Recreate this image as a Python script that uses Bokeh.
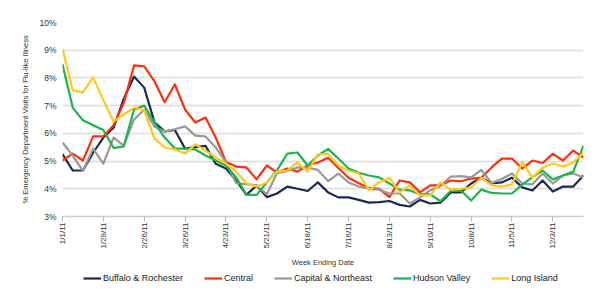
import math
from bokeh.plotting import figure
from bokeh.layouts import column
from bokeh.models import Range1d, FixedTicker, Legend, LegendItem, ColumnDataSource
from bokeh.embed import file_html
from bokeh.resources import INLINE

# Weekly share of ED visits for flu-like illness (%), week ending 1/1/11 .. 12/24/11
week_index = list(range(52))
tick_weeks = [0, 4, 8, 12, 16, 20, 24, 28, 32, 36, 40, 44, 48]
tick_labels = ["1/1/11", "1/29/11", "2/26/11", "3/26/11", "4/23/11", "5/21/11", "6/18/11",
               "7/16/11", "8/13/11", "9/10/11", "10/8/11", "11/5/11", "12/3/11"]

buffalo_rochester = [5.25, 4.66, 4.66, 5.3, 5.85, 6.2, 7.25, 8.05, 7.65, 6.4,
                     6.07, 6.12, 5.45, 5.5, 5.55, 4.9, 4.73, 4.3, 3.78, 4.12,
                     3.7, 3.83, 4.08, 4.0, 3.92, 4.23, 3.87, 3.69, 3.69, 3.6,
                     3.5, 3.52, 3.56, 3.42, 3.36, 3.6, 3.47, 3.5, 3.87, 3.87,
                     4.19, 4.4, 4.19, 4.23, 4.4, 4.05, 3.94, 4.3, 3.9, 4.08,
                     4.08, 4.48]
central = [5.02, 5.27, 5.02, 5.89, 5.89, 6.29, 7.1, 8.45, 8.42, 7.88,
           7.12, 7.77, 6.86, 6.39, 6.57, 5.85, 4.97, 4.8, 4.77, 4.34,
           4.84, 4.59, 4.73, 4.62, 4.84, 4.95, 5.12, 4.75, 4.4, 4.2,
           4.03, 4.0, 3.7, 4.3, 4.23, 3.87, 4.12, 4.12, 4.3, 4.27,
           4.37, 4.4, 4.77, 5.09, 5.09, 4.73, 5.02, 4.93, 5.26, 5.02,
           5.38, 5.13]
capital_northeast = [5.67, 5.2, 4.65, 5.45, 4.91, 5.85, 5.56, 6.5, 6.85, 6.25,
                     6.07, 6.15, 6.25, 5.92, 5.89, 5.49, 4.95, 4.2, 4.17, 4.12,
                     3.8, 4.57, 4.64, 4.77, 4.76, 4.68, 4.28, 4.55, 4.23, 4.08,
                     4.0, 3.97, 3.83, 3.83, 3.47, 3.69, 3.94, 4.1, 4.44, 4.46,
                     4.41, 4.68, 4.21, 4.35, 4.55, 4.19, 4.16, 4.55, 4.19, 4.48,
                     4.55, 4.41]
hudson_valley = [8.49, 6.93, 6.47, 6.29, 6.12, 5.47, 5.53, 6.86, 7.0, 6.39,
                 5.85, 5.45, 5.45, 5.42, 5.2, 5.02, 4.84, 4.41, 3.78, 3.78,
                 4.23, 4.66, 5.27, 5.31, 4.84, 5.2, 5.44, 5.09, 4.73, 4.58,
                 4.48, 4.41, 4.19, 3.97, 3.94, 3.8, 3.8, 3.55, 3.92, 3.94,
                 3.58, 3.97, 3.85, 3.83, 3.83, 4.15, 4.42, 4.66, 4.34, 4.48,
                 4.62, 5.56]
long_island = [9.05, 7.55, 7.48, 8.02, 7.2, 6.43, 6.68, 6.93, 6.83, 5.82,
               5.49, 5.42, 5.27, 5.6, 5.38, 5.13, 4.91, 4.62, 4.2, 4.08,
               4.23, 4.62, 4.66, 4.95, 4.62, 5.25, 5.25, 4.85, 4.65, 4.55,
               3.95, 4.23, 4.4, 3.87, 4.12, 3.76, 3.76, 4.23, 3.97, 4.0,
               4.05, 4.4, 4.12, 4.08, 4.16, 4.95, 4.4, 4.77, 4.91, 4.8,
               4.95, 5.31]

series = [
    ("Buffalo & Rochester", buffalo_rochester, "#1b2a4e"),
    ("Central", central, "#ff2e0c"),
    ("Capital & Northeast", capital_northeast, "#999999"),
    ("Hudson Valley", hudson_valley, "#1bb550"),
    ("Long Island", long_island, "#ffc81a"),
]

FONT = "Liberation Sans"
LINE_W = 2.2

p = figure(frame_width=521, frame_height=194, output_backend="svg", toolbar_location=None,
           x_range=Range1d(0, 51), y_range=Range1d(3, 10),
           min_border_left=62, min_border_right=17, min_border_top=22, min_border_bottom=0)
p.outline_line_color = None
p.background_fill_color = "white"
p.border_fill_color = "white"

for name, vals, color in series:
    src = ColumnDataSource(dict(x=week_index, y=vals))
    p.line("x", "y", source=src, line_color=color, line_width=LINE_W, line_join="round")

# y axis: percent labels, no axis line or ticks
p.yaxis.ticker = FixedTicker(ticks=[3, 4, 5, 6, 7, 8, 9, 10])
p.yaxis.major_label_overrides = {v: f"{v}%" for v in range(3, 11)}
p.yaxis.axis_line_color = None
p.yaxis.major_tick_line_color = None
p.yaxis.minor_tick_line_color = None
p.yaxis.major_tick_out = 0
p.yaxis.major_label_standoff = 6
p.yaxis.major_label_text_font = FONT
p.yaxis.major_label_text_font_size = "8.5px"
p.yaxis.major_label_text_color = "#333333"
p.yaxis.axis_label = "% Emergency Department Visits for Flu-like Illness"
p.yaxis.axis_label_text_font = FONT
p.yaxis.axis_label_text_font_size = "7.5px"
p.yaxis.axis_label_text_font_style = "normal"
p.yaxis.axis_label_text_color = "#333333"
p.yaxis.axis_label_standoff = 6

# x axis: rotated week-ending dates every four weeks
p.xaxis.ticker = FixedTicker(ticks=tick_weeks)
p.xaxis.major_label_overrides = dict(zip(tick_weeks, tick_labels))
p.xaxis.major_label_orientation = math.pi / 2
p.xaxis.axis_line_color = "#cccccc"
p.xaxis.axis_line_width = 1.5
p.xaxis.major_tick_line_color = "#bbbbbb"
p.xaxis.major_tick_in = 0
p.xaxis.major_tick_out = 5
p.xaxis.minor_tick_line_color = None
p.xaxis.major_label_standoff = 1
p.xaxis.major_label_text_font = FONT
p.xaxis.major_label_text_font_size = "8px"
p.xaxis.major_label_text_color = "#333333"
p.xaxis.axis_label = "Week Ending Date"
p.xaxis.axis_label_text_font = FONT
p.xaxis.axis_label_text_font_size = "7.5px"
p.xaxis.axis_label_text_font_style = "normal"
p.xaxis.axis_label_text_color = "#333333"
p.xaxis.axis_label_standoff = 6

p.xgrid.grid_line_color = None
p.ygrid.ticker = FixedTicker(ticks=[4, 5, 6, 7, 8, 9, 10])
p.ygrid.grid_line_color = "#dcdcdc"
p.ygrid.grid_line_width = 1.5

# legend strip under the chart; its series sit outside the strip's view range,
# so only the legend keys show
key = figure(width=600, height=18, output_backend="svg", toolbar_location=None,
             x_range=Range1d(0, 51), y_range=Range1d(-2, -1),
             min_border_left=0, min_border_right=0, min_border_top=0, min_border_bottom=0)
key.axis.visible = False
key.grid.visible = False
key.outline_line_color = None
key.background_fill_color = "white"
key.border_fill_color = "white"

items = []
for name, vals, color in series:
    r = key.line(x=week_index, y=vals, line_color=color, line_width=LINE_W)
    items.append(LegendItem(label=name, renderers=[r]))

legend = Legend(items=items, orientation="horizontal", location=(21, 3),
                glyph_width=18, glyph_height=12, label_standoff=2, spacing=21,
                padding=0, margin=0, border_line_color=None, background_fill_alpha=0,
                label_text_font=FONT, label_text_font_size="9px",
                label_text_color="#222222", label_height=12)
key.add_layout(legend, "center")

open("out.html", "w").write(file_html(column(p, key, spacing=0), INLINE))
